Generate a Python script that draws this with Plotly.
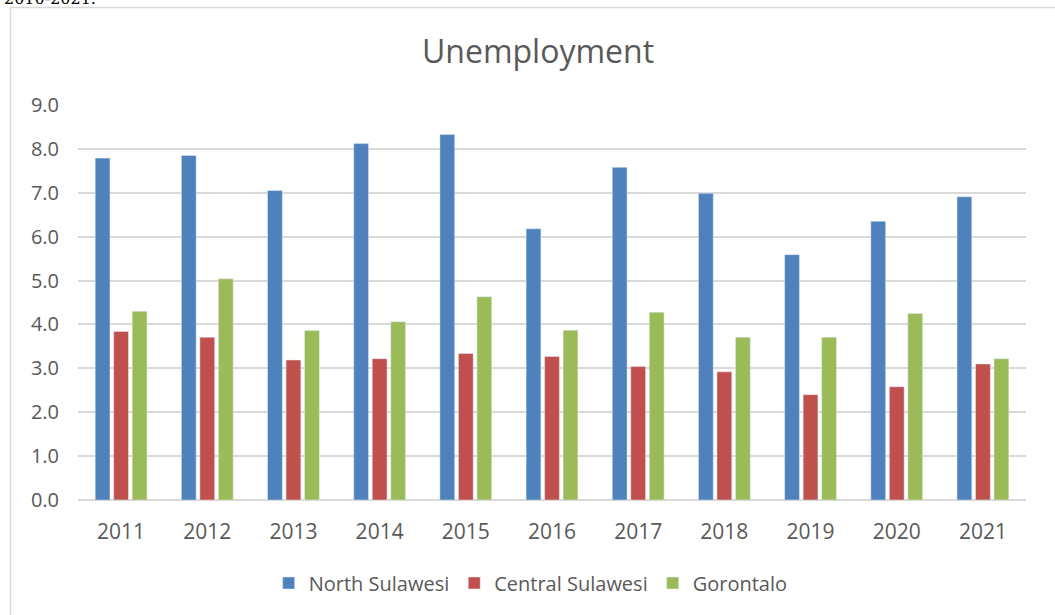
import plotly.graph_objects as go

years = ["2011", "2012", "2013", "2014", "2015", "2016", "2017", "2018", "2019", "2020", "2021"]
north_sulawesi = [7.79, 7.85, 7.05, 8.12, 8.33, 6.18, 7.58, 6.99, 5.59, 6.35, 6.91]
central_sulawesi = [3.84, 3.71, 3.19, 3.22, 3.34, 3.27, 3.04, 2.92, 2.40, 2.58, 3.10]
gorontalo = [4.30, 5.04, 3.86, 4.06, 4.63, 3.87, 4.28, 3.71, 3.71, 4.25, 3.22]
y_ticks = [0, 1, 2, 3, 4, 5, 6, 7, 8, 9]

FONT = "Open Sans"
GRAY = "#595959"
GRID = "#d9d9d9"

fig = go.Figure()
fig.add_trace(go.Bar(name="North Sulawesi", x=years, y=north_sulawesi, marker_color="#4f81bd"))
fig.add_trace(go.Bar(name="Central Sulawesi", x=years, y=central_sulawesi, marker_color="#c0504d"))
fig.add_trace(go.Bar(name="Gorontalo", x=years, y=gorontalo, marker_color="#9bbb59"))

W, H = 1055, 615
L, R, T, B = 78, 29, 105, 115
pw, ph = W - L - R, H - T - B

def px_x(px):
    return (px - L) / pw

def px_y(py):
    return (H - B - py) / ph

fig.update_layout(
    width=W, height=H,
    margin=dict(l=L, r=R, t=T, b=B),
    paper_bgcolor="white", plot_bgcolor="white",
    barmode="group", bargap=0.356, bargroupgap=0.2,
    font=dict(family=FONT, color=GRAY, size=20),
    title=dict(text="Unemployment", x=0.51, xanchor="center", y=1 - 52 / H, yanchor="middle",
               font=dict(family=FONT, size=32, color=GRAY)),
    showlegend=True,
    legend=dict(orientation="h", xref="container", yref="container", x=0.503, xanchor="center",
                y=1 - 583 / H, yanchor="middle", font=dict(family=FONT, size=20, color=GRAY),
                itemwidth=30, traceorder="normal"),
    xaxis=dict(type="category", showgrid=False, showline=False, ticks="", ticklabelstandoff=17,
               tickfont=dict(family=FONT, size=21, color=GRAY)),
    yaxis=dict(range=[0, 9], tickvals=y_ticks, tickformat=".1f", showgrid=True, gridcolor=GRID,
               gridwidth=1.5, zeroline=True, zerolinecolor=GRID, zerolinewidth=1.5, showline=False,
               ticks="", ticklabelstandoff=18, tickfont=dict(family=FONT, size=20, color=GRAY)),
    shapes=[dict(type="rect", xref="paper", yref="paper", x0=px_x(10.5), x1=px_x(1080),
                 y0=px_y(640), y1=px_y(7.5), line=dict(color=GRID, width=1.5), layer="below")],
    annotations=[dict(text="2010-2021.", xref="paper", yref="paper", x=px_x(2), xanchor="left",
                      y=px_y(-1), yanchor="middle", showarrow=False,
                      font=dict(family="DejaVu Serif", size=16, color="black"))],
)

fig.write_html("out.html", config={"displayModeBar": False},
               post_script="document.body.style.margin='0';document.body.style.overflow='hidden';")
